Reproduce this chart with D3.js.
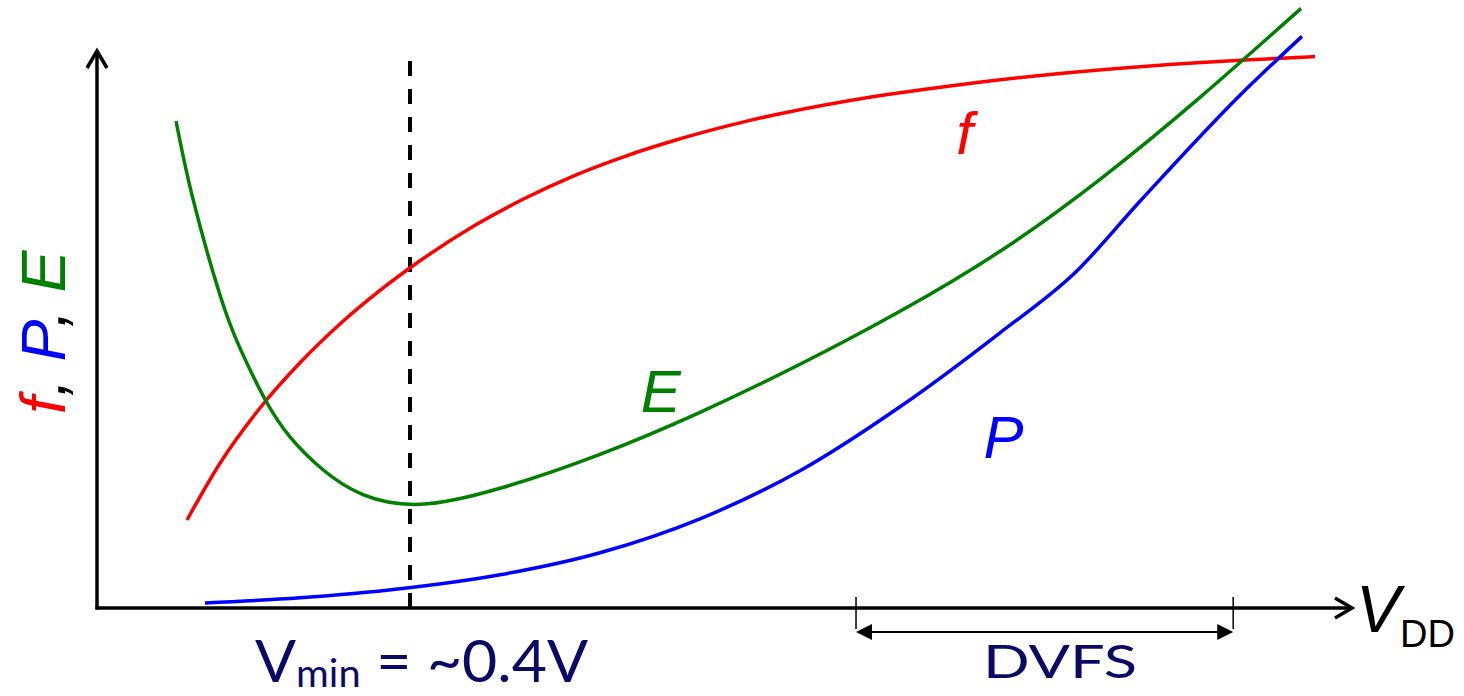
<!DOCTYPE html>
<html>
<head>
<meta charset="utf-8">
<script src="https://cdn.jsdelivr.net/npm/d3@7"></script>
<style>
  html, body { margin: 0; padding: 0; background: #fff; }
  svg { display: block; }
</style>
</head>
<body>
<svg id="chart" width="1464" height="696"></svg>
<script>
// Supply voltage (V) and relative level (arbitrary units, 0-100) for each curve
const fVolt = [0.1150, 0.1572, 0.2083, 0.2594, 0.3105, 0.3617, 0.4128, 0.4831, 0.5470, 0.6109, 0.6748, 0.7387, 0.8345, 0.9623, 1.0901, 1.2179, 1.3457, 1.4735, 1.5566];
const fLevel = [15.83, 26.04, 35.97, 44.10, 51.08, 57.12, 62.45, 68.83, 73.69, 77.82, 81.24, 84.12, 87.70, 91.29, 93.90, 95.97, 97.50, 98.62, 99.17];

const eVolt = [0.1010, 0.1227, 0.1572, 0.1827, 0.2147, 0.2466, 0.2888, 0.3399, 0.4128, 0.5150, 0.6428, 0.7706, 0.8984, 1.0262, 1.1540, 1.2818, 1.4096, 1.5387];
const eLevel = [87.59, 73.53, 56.28, 46.74, 37.54, 30.79, 24.86, 20.40, 18.65, 21.53, 27.64, 35.20, 43.83, 53.36, 64.15, 77.10, 91.85, 107.84];

const pVolt = [0.1380, 0.2594, 0.3872, 0.5150, 0.6428, 0.7706, 0.8984, 1.0262, 1.1540, 1.2498, 1.3329, 1.4607, 1.5399];
const pLevel = [0.90, 1.83, 3.45, 5.97, 9.93, 16.04, 24.68, 36.19, 49.50, 60.29, 73.15, 92.21, 102.81];

// Minimum-energy voltage and the DVFS operating window
const vMin = 0.4;
const vMinTop = 98.6;
const dvfsRange = [0.97, 1.452];

const svg = d3.select("#chart");

const x = d3.scaleLinear().domain([0, 1.6]).range([97, 1349]);
const y = d3.scaleLinear().domain([0, 100]).range([608, 52]);

const navy = "#0a0a66";

const series = [
  { volt: fVolt, level: fLevel, color: "#ff0000", curve: d3.curveMonotoneX },
  { volt: eVolt, level: eLevel, color: "#008000", curve: d3.curveNatural },
  { volt: pVolt, level: pLevel, color: "#0000ff", curve: d3.curveMonotoneX }
];

// Dashed marker at Vmin
svg.append("line")
  .attr("x1", x(vMin)).attr("x2", x(vMin))
  .attr("y1", y(0)).attr("y2", y(vMinTop))
  .attr("stroke", "#000")
  .attr("stroke-width", 4)
  .attr("stroke-dasharray", "15,13");

// f, E and P curves
series.forEach(s => {
  const line = d3.line()
    .x(d => x(d[0]))
    .y(d => y(d[1]))
    .curve(s.curve);
  svg.append("path")
    .datum(d3.zip(s.volt, s.level))
    .attr("d", line)
    .attr("fill", "none")
    .attr("stroke", s.color)
    .attr("stroke-width", 3.5)
    .attr("stroke-linecap", "butt");
});

// Axes with open arrowheads
const ax = svg.append("g")
  .attr("stroke", "#000")
  .attr("stroke-width", 3.5)
  .attr("fill", "none")
  .attr("stroke-linejoin", "miter");

const x0 = x(0), y0 = y(0);
const yTip = 50, xTip = 1352;
ax.append("path").attr("d", `M${x0},${y0 + 1.5} L${x0},${yTip + 2}`);
ax.append("path").attr("d", `M${x0 - 10},${yTip + 18} L${x0},${yTip + 1} L${x0 + 10},${yTip + 18}`);
ax.append("path").attr("d", `M${x0 - 1.5},${y0} L${xTip - 2},${y0}`);
ax.append("path").attr("d", `M${xTip - 17},${y0 - 10} L${xTip},${y0} L${xTip - 17},${y0 + 10}`);

// DVFS window bracket
const b = svg.append("g");
dvfsRange.forEach(v => {
  b.append("line")
    .attr("x1", x(v)).attr("x2", x(v))
    .attr("y1", 597).attr("y2", 629)
    .attr("stroke", "#000").attr("stroke-width", 1.5);
});
const bx1 = x(dvfsRange[0]), bx2 = x(dvfsRange[1]), by = 632;
b.append("line")
  .attr("x1", bx1 + 10).attr("x2", bx2 - 10)
  .attr("y1", by).attr("y2", by)
  .attr("stroke", "#000").attr("stroke-width", 2);
b.append("path")
  .attr("d", `M${bx1},${by} L${bx1 + 16},${by - 8} L${bx1 + 16},${by + 8} Z`)
  .attr("fill", "#000");
b.append("path")
  .attr("d", `M${bx2},${by} L${bx2 - 16},${by - 8} L${bx2 - 16},${by + 8} Z`)
  .attr("fill", "#000");

svg.append("text")
  .attr("x", 983)
  .attr("y", 678)
  .attr("textLength", 154)
  .attr("lengthAdjust", "spacingAndGlyphs")
  .attr("font-family", "Lato, 'DejaVu Sans', sans-serif")
  .attr("font-size", 46)
  .attr("fill", navy)
  .text("DVFS");

// Vmin annotation
const vt = svg.append("text")
  .attr("x", 255)
  .attr("y", 682)
  .attr("textLength", 333)
  .attr("lengthAdjust", "spacingAndGlyphs")
  .attr("font-family", "Lato, 'DejaVu Sans', sans-serif")
  .attr("font-size", 58)
  .attr("fill", navy);
vt.append("tspan").text("V");
vt.append("tspan").attr("font-size", 38).attr("dy", 5).text("min");
vt.append("tspan").attr("dy", -5).text(" = ~0.4V");

// Axis titles
const xt = svg.append("text")
  .attr("x", 1356)
  .attr("y", 632)
  .attr("font-family", "'Liberation Sans', Arial, sans-serif")
  .attr("fill", "#000");
xt.append("tspan").attr("font-size", 66).attr("font-style", "italic").text("V");
xt.append("tspan").attr("font-size", 38).attr("dy", 15).text("DD");

const yt = svg.append("text")
  .attr("transform", "translate(65,414) rotate(-90)")
  .attr("text-anchor", "start")
  .attr("font-family", "'Liberation Sans', Arial, sans-serif")
  .attr("font-size", 63)
  .attr("font-style", "italic");
yt.append("tspan").attr("fill", "#ff0000").text("f");
yt.append("tspan").attr("fill", "#000").text(", ");
yt.append("tspan").attr("fill", "#0000ff").text("P");
yt.append("tspan").attr("fill", "#000").text(", ");
yt.append("tspan").attr("fill", "#008000").text("E");

// Curve labels
const labels = [
  { t: "f", v: 1.098, l: 81.7, c: "#ff0000" },
  { t: "E", v: 0.695, l: 35.3, c: "#008000" },
  { t: "P", v: 1.133, l: 27.0, c: "#0000ff" }
];
svg.selectAll("text.curve-label")
  .data(labels)
  .join("text")
  .attr("class", "curve-label")
  .attr("x", d => x(d.v))
  .attr("y", d => y(d.l))
  .attr("font-family", "'Liberation Sans', Arial, sans-serif")
  .attr("font-size", 60)
  .attr("font-style", "italic")
  .attr("fill", d => d.c)
  .text(d => d.t);
</script>
</body>
</html>
